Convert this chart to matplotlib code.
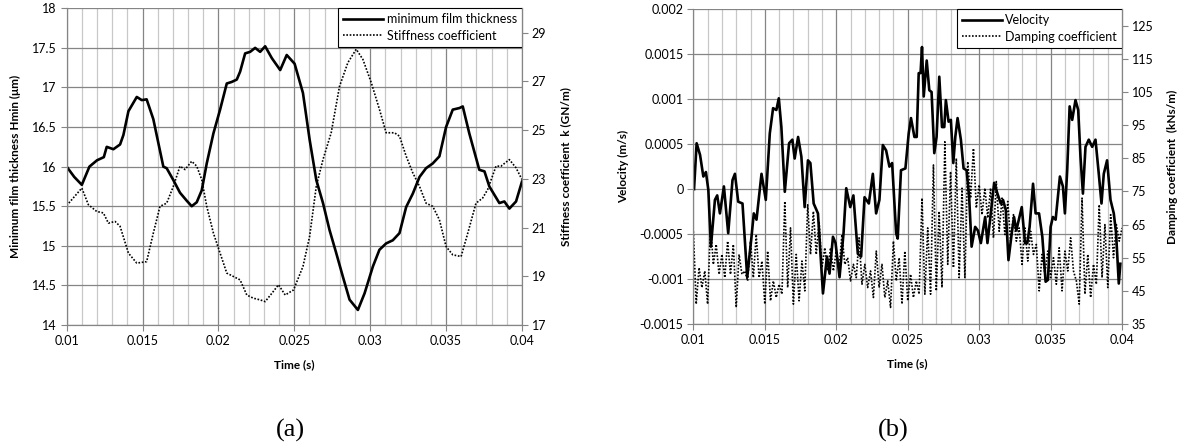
import numpy as np
import matplotlib
matplotlib.use("Agg")
import matplotlib.pyplot as plt
from matplotlib.ticker import MultipleLocator, FuncFormatter

# ---- panel (a): minimum film thickness / stiffness ----
film_t = [0.0100, 0.0105, 0.0110, 0.0115, 0.0120, 0.01245, 0.01264, 0.01308, 0.01352, 0.01374,
          0.01407, 0.01462, 0.01495, 0.01527, 0.01571, 0.01615, 0.01637, 0.01659, 0.01703, 0.01747,
          0.01791, 0.01824, 0.01857, 0.01890, 0.01923, 0.01967, 0.02011, 0.02055, 0.02088, 0.02121,
          0.02143, 0.02176, 0.02209, 0.02242, 0.02275, 0.02308, 0.02352, 0.02407, 0.02450, 0.02502,
          0.02557, 0.02601, 0.02645, 0.02689, 0.02732, 0.02776, 0.02820, 0.02864, 0.02919, 0.02963,
          0.03018, 0.03061, 0.03105, 0.03149, 0.03193, 0.03237, 0.03281, 0.03325, 0.03368, 0.03412,
          0.03456, 0.03500, 0.03544, 0.03588, 0.03610, 0.03653, 0.03719, 0.03753, 0.03785, 0.03851,
          0.03884, 0.03917, 0.03961, 0.04000]
film = [16.0, 15.87, 15.77, 16.0, 16.08, 16.12, 16.25, 16.22, 16.28, 16.4,
        16.7, 16.88, 16.84, 16.85, 16.6, 16.2, 16.0, 15.98, 15.83, 15.67,
        15.57, 15.5, 15.55, 15.7, 16.04, 16.42, 16.72, 17.05, 17.07, 17.1,
        17.2, 17.43, 17.45, 17.5, 17.45, 17.52, 17.37, 17.22, 17.41, 17.3,
        16.93, 16.34, 15.83, 15.54, 15.2, 14.91, 14.61, 14.32, 14.19, 14.4,
        14.74, 14.95, 15.03, 15.07, 15.16, 15.49, 15.66, 15.87, 15.98, 16.04,
        16.13, 16.5, 16.72, 16.74, 16.76, 16.42, 15.96, 15.94, 15.75, 15.54,
        15.56, 15.47, 15.56, 15.81]

stiff_t = [0.0100, 0.0110, 0.01143, 0.01198, 0.01242, 0.01275, 0.01319, 0.01352, 0.01407, 0.01462,
           0.01527, 0.01571, 0.01615, 0.01659, 0.01703, 0.01747, 0.01780, 0.01824, 0.01857, 0.01890,
           0.01923, 0.01967, 0.02011, 0.02055, 0.02099, 0.02143, 0.02187, 0.02230, 0.02275, 0.02308,
           0.02352, 0.02396, 0.02440, 0.02495, 0.02557, 0.02601, 0.02645, 0.02689, 0.02743, 0.02798,
           0.02853, 0.02908, 0.02952, 0.03007, 0.03061, 0.03105, 0.03160, 0.03193, 0.03237, 0.03281,
           0.03325, 0.03368, 0.03412, 0.03456, 0.03500, 0.03544, 0.03599, 0.03643, 0.03697, 0.03741,
           0.03774, 0.03829, 0.03862, 0.03917, 0.03961, 0.04000]
stiff = [21.9, 22.62, 21.94, 21.66, 21.6, 21.18, 21.25, 21.05, 19.95, 19.54,
         19.6, 20.77, 21.87, 22.0, 22.69, 23.52, 23.38, 23.72, 23.52, 22.97,
         21.87, 20.77, 19.95, 19.13, 18.99, 18.85, 18.23, 18.1, 18.03, 17.96,
         18.3, 18.65, 18.23, 18.44, 19.4, 20.64, 22.7, 23.79, 24.89, 26.8,
         27.77, 28.32, 27.9, 26.95, 25.85, 24.89, 24.89, 24.75, 23.93, 23.24,
         22.69, 22.0, 21.87, 21.32, 20.22, 19.88, 19.81, 20.77, 22.0, 22.21,
         22.56, 23.52, 23.52, 23.79, 23.45, 22.97]

# ---- panel (b): velocity / damping ----
vel_t = [0.01005, 0.01023, 0.01047, 0.01070, 0.01088, 0.01105, 0.01123, 0.01151, 0.01167, 0.01186,
         0.01214, 0.01244, 0.01274, 0.01291, 0.01314, 0.01344, 0.01377, 0.01407, 0.01423, 0.01442,
         0.01477, 0.01507, 0.01535, 0.01558, 0.01581, 0.01598, 0.01616, 0.01640, 0.01670, 0.01693,
         0.01709, 0.01733, 0.01756, 0.01779, 0.01802, 0.01819, 0.01842, 0.01872, 0.01907, 0.01935,
         0.01953, 0.01977, 0.01995, 0.02023, 0.02051, 0.02070, 0.02098, 0.02120, 0.02151, 0.02174,
         0.02198, 0.02228, 0.02256, 0.02279, 0.02302, 0.02326, 0.02349, 0.02372, 0.02391, 0.02419,
         0.02430, 0.02453, 0.02484, 0.02507, 0.02523, 0.02547, 0.02563, 0.02577, 0.02590, 0.02600,
         0.02612, 0.02633, 0.02651, 0.02667, 0.02686, 0.02702, 0.02721, 0.02740, 0.02756, 0.02767,
         0.02786, 0.02802, 0.02819, 0.02833, 0.02849, 0.02872, 0.02891, 0.02912, 0.02930, 0.02947,
         0.02972, 0.02991, 0.03012, 0.03042, 0.03058, 0.03081, 0.03105, 0.03128, 0.03151, 0.03167,
         0.03186, 0.03205, 0.03228, 0.03244, 0.03260, 0.03298, 0.03321, 0.03337, 0.03353, 0.03377,
         0.03395, 0.03419, 0.03442, 0.03465, 0.03481, 0.03500, 0.03516, 0.03535, 0.03565, 0.03586,
         0.03600, 0.03616, 0.03633, 0.03651, 0.03674, 0.03693, 0.03709, 0.03726, 0.03744, 0.03767,
         0.03791, 0.03814, 0.03837, 0.03856, 0.03872, 0.03895, 0.03919, 0.03942, 0.03958, 0.03977,
         0.03988]
velocity = [0.0, 0.00051, 0.00038, 0.00014, 0.00019, -0.00001, -0.00064, -0.00012, -0.00007, -0.00027,
            0.00003, -0.00049, 0.0001, 0.00017, -0.00014, -0.00016, -0.00098, -0.00053, -0.00027, -0.00034,
            0.00017, -0.00012, 0.00062, 0.0009, 0.00088, 0.00101, 0.00069, -0.00003, 0.00051, 0.00055,
            0.00034, 0.00058, 0.00036, -0.0002, 0.00032, 0.00029, -0.00016, -0.00027, -0.00116, -0.00075,
            -0.00094, -0.00053, -0.0006, -0.00098, -0.00049, 0.00001, -0.0002, -0.00007, -0.00072, -0.00075,
            -0.00009, -0.00016, 0.00017, -0.00027, -0.00012, 0.00049, 0.00043, 0.00025, 0.00029, -0.00049,
            -0.00055, 0.00021, 0.00023, 0.00062, 0.00079, 0.00058, 0.00058, 0.00129, 0.00129, 0.00158,
            0.00103, 0.00143, 0.0011, 0.00108, 0.0004, 0.00058, 0.00125, 0.00069, 0.00069, 0.00099,
            0.00075, 0.00077, 0.00029, 0.00058, 0.00079, 0.00055, 0.00023, 0.00021, -0.00009, -0.00064,
            -0.00042, -0.00046, -0.0006, -0.00031, -0.0006, -0.00027, 0.00007, -0.00005, -0.00016, -0.00012,
            -0.00023, -0.00079, -0.00049, -0.00031, -0.00046, -0.0002, -0.0006, -0.0006, -0.00042, 0.00006,
            -0.00027, -0.00027, -0.00053, -0.00103, -0.00101, -0.00042, -0.00031, -0.00034, 0.00014, 0.00003,
            -0.00027, 0.00021, 0.00092, 0.00077, 0.00099, 0.00088, 0.00036, -0.00005, 0.00047, 0.00055,
            0.00047, 0.00055, 0.00017, -0.00016, 0.00017, 0.00032, -0.00012, -0.00027, -0.00049, -0.00105,
            -0.00083]

# damping sampled every 0.0002 s from 0.010 to 0.040
damp_t = np.round(np.arange(0, 151) * 0.0002 + 0.01, 5)
damping = [63, 41, 52, 46, 51, 41, 65, 53, 59, 50,
           56, 49, 60, 50, 59, 40, 56, 50, 51, 48,
           60, 49, 62, 49, 54, 41, 57, 42, 48, 43,
           47, 44, 72, 46, 64, 41, 56, 42, 54, 45,
           71, 56, 69, 56, 66, 52, 58, 51, 58, 51,
           57, 52, 62, 53, 55, 48, 53, 49, 61, 47,
           53, 46, 51, 43, 57, 46, 53, 43, 48, 40,
           60, 48, 55, 41, 57, 42, 50, 43, 48, 44,
           73, 44, 64, 44, 83, 45, 69, 46, 90, 53,
           81, 52, 85, 49, 76, 49, 84, 73, 88, 70,
           77, 68, 76, 67, 76, 61, 78, 63, 73, 62,
           72, 60, 68, 60, 64, 53, 64, 54, 63, 56,
           59, 45, 56, 50, 57, 49, 55, 47, 58, 45,
           57, 51, 61, 51, 48, 41, 73, 44, 56, 43,
           53, 47, 71, 49, 65, 46, 68, 55, 65, 60,
           64]

xticks = [0.01, 0.015, 0.02, 0.025, 0.03, 0.035, 0.04]

TICK_FONT = "Lato"
fmt = FuncFormatter(lambda v, p: "%g" % round(v, 6))


def style_axes(ax, twin, ymajor, tmajor):
    ax.set_xlim(0.01, 0.04)
    ax.set_xticks(xticks)
    ax.xaxis.set_minor_locator(MultipleLocator(0.001))
    ax.yaxis.set_major_locator(MultipleLocator(ymajor))
    twin.yaxis.set_major_locator(MultipleLocator(tmajor))
    ax.grid(True, which="minor", axis="x", color="#c8c8c8", lw=0.9)
    ax.grid(True, which="major", axis="x", color="#858585", lw=0.9)
    ax.grid(True, which="major", axis="y", color="#858585", lw=0.9)
    ax.set_axisbelow(True)
    for a in (ax, twin):
        for s in a.spines.values():
            s.set_color("#858585")
        a.spines["top"].set_visible(False)
        a.tick_params(which="major", length=4, color="#858585", labelsize=9, pad=3)
        a.tick_params(which="minor", length=0)
    ax.xaxis.set_major_formatter(fmt)
    ax.yaxis.set_major_formatter(fmt)
    twin.yaxis.set_major_formatter(fmt)
    ax.set_xlabel("Time (s)", fontsize=8.5, fontweight="bold", family=TICK_FONT, labelpad=9)


fig = plt.figure(figsize=(11.86, 4.48), dpi=100)

# panel (a)
ax1 = fig.add_axes([0.0562, 0.2746, 0.3839, 0.7069])
ax1b = ax1.twinx()
l1, = ax1.plot(film_t, film, color="black", lw=1.9, solid_joinstyle="round")
l2, = ax1b.plot(stiff_t, stiff, color="black", lw=1.2, ls=(0, (1, 1)))
ax1.set_ylim(14, 18)
ax1b.set_ylim(17, 30)
style_axes(ax1, ax1b, 0.5, 2)
ax1b.set_yticks(np.arange(17, 30, 2))
ax1.set_ylabel("Minimum film thickness Hmin (\u03bcm)", fontsize=8.5, fontweight="bold",
               family=TICK_FONT, labelpad=8)
ax1b.set_ylabel("Stiffness coefficient  k (GN/m)", fontsize=8.5, fontweight="bold",
                family=TICK_FONT, labelpad=10)
leg1 = ax1.legend([l1, l2], ["minimum film thickness", "Stiffness coefficient"],
                  loc="upper right", bbox_to_anchor=(1.0, 1.0), fancybox=False,
                  edgecolor="black", framealpha=1, borderaxespad=0,
                  prop={"family": TICK_FONT, "size": 9}, handlelength=3.2,
                  handletextpad=0.3, borderpad=0.4, labelspacing=0.35)
leg1.get_frame().set_linewidth(0.8)

# panel (b)
ax2 = fig.add_axes([0.5846, 0.2768, 0.3615, 0.7025])
ax2b = ax2.twinx()
l3, = ax2.plot(vel_t, velocity, color="black", lw=1.9, solid_joinstyle="round")
l4, = ax2b.plot(damp_t, damping, color="black", lw=1.2, ls=(0, (1, 1)))
ax2.set_ylim(-0.0015, 0.002)
ax2b.set_ylim(35, 130)
style_axes(ax2, ax2b, 0.0005, 10)
ax2b.set_yticks(np.arange(35, 130, 10))
ax2.set_ylabel("Velocity (m/s)", fontsize=8.5, fontweight="bold", family=TICK_FONT, labelpad=8)
ax2b.set_ylabel("Damping coefficient  (kNs/m)", fontsize=8.5, fontweight="bold",
                family=TICK_FONT, labelpad=10)
leg2 = ax2.legend([l3, l4], ["Velocity", "Damping coefficient"],
                  loc="upper right", bbox_to_anchor=(1.0, 1.0), fancybox=False,
                  edgecolor="black", framealpha=1, borderaxespad=0,
                  prop={"family": TICK_FONT, "size": 9}, handlelength=3.2,
                  handletextpad=0.3, borderpad=0.4, labelspacing=0.35)
leg2.get_frame().set_linewidth(0.8)

for ax in (ax1, ax1b, ax2, ax2b):
    for lab in ax.get_xticklabels() + ax.get_yticklabels():
        lab.set_family(TICK_FONT)

fig.text(290 / 1186, 1 - 430 / 448, "(a)", ha="center", va="center",
         family="Liberation Serif", fontsize=19)
fig.text(893 / 1186, 1 - 430 / 448, "(b)", ha="center", va="center",
         family="Liberation Serif", fontsize=19)

fig.savefig("out.png", dpi=100)
